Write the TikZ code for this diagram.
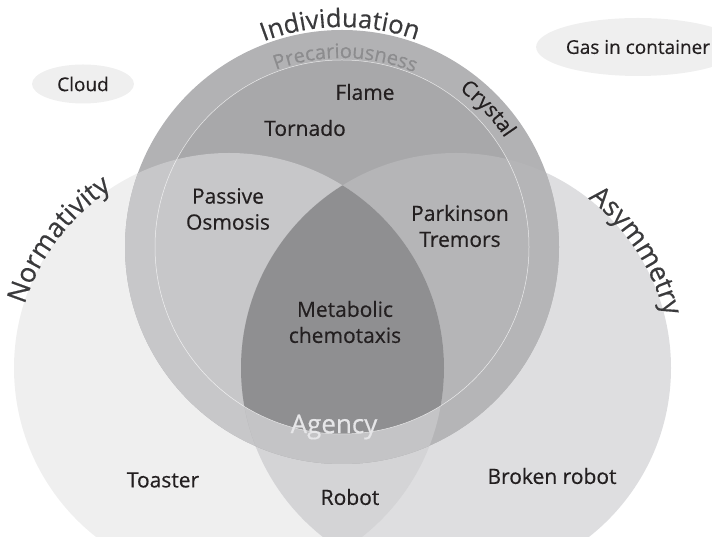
\documentclass[tikz,border=0pt]{standalone}
\usepackage{fontspec}
\setmainfont{Open Sans}[FakeBold=0.45]
\usetikzlibrary{decorations.text,shapes.geometric}

% region fills
\definecolor{lonly}{HTML}{EFEFEF}
\definecolor{ronly}{HTML}{DEDEE0}
\definecolor{lronly}{HTML}{D4D4D6}
\definecolor{ringonly}{HTML}{B2B2B4}
\definecolor{inneronly}{HTML}{A8A8AA}
\definecolor{topleft}{HTML}{C7C7C9}
\definecolor{topright}{HTML}{B5B5B7}
\definecolor{ringlr}{HTML}{C4C4C6}
\definecolor{core}{HTML}{8F8F91}
% text colours
\definecolor{labeltext}{HTML}{231F20}
\definecolor{arctext}{HTML}{3A3A3C}
\definecolor{softtext}{HTML}{8C8C8E}
\definecolor{paletext}{HTML}{E6E6E8}

\newcommand\arcfontbig{\fontsize{25.5}{26}\selectfont}
\newcommand\arcfontside{\fontsize{27}{27}\selectfont}
\newcommand\arcfontmid{\fontsize{20}{20}\selectfont}
\newcommand\arcfontcry{\fontsize{21}{21}\selectfont}

\begin{document}
\begin{tikzpicture}[x=1pt,y=1pt,
  lbl/.style={text=labeltext, font=\fontsize{21}{26}\selectfont, align=center, inner sep=0pt},
  bubble/.style={ellipse, fill=lonly, inner sep=0pt, text=labeltext, font=\fontsize{19}{24}\selectfont},
  arclabel/.style={decorate, decoration={text along path, text align=center, text color=#1}}
]
\useasboundingbox (0,0) rectangle (712,537);

\coordinate (tc) at (342,290);
\coordinate (lc) at (229,169);
\coordinate (rc) at (456,169);

% lower two sets
\fill[lonly] (lc) circle[radius=215];
\fill[ronly] (rc) circle[radius=215];
\begin{scope}
  \clip (lc) circle[radius=215];
  \fill[lronly] (rc) circle[radius=215];
\end{scope}

% upper set with its inner disc
\fill[ringonly] (tc) circle[radius=217];
\fill[inneronly] (tc) circle[radius=187];
\begin{scope}
  \clip (tc) circle[radius=217];
  \fill[topleft] (lc) circle[radius=215];
  \fill[topright] (rc) circle[radius=215];
  \begin{scope}
    \clip (lc) circle[radius=215];
    \fill[ringlr] (rc) circle[radius=215];
    \clip (tc) circle[radius=187];
    \fill[core] (rc) circle[radius=215];
  \end{scope}
\end{scope}
\draw[white, line width=0.5pt, opacity=0.75] (tc) circle[radius=187];

% set names along the rims
\path[arclabel=arctext, decoration={text={|\arcfontbig|Individuation}}]
  (tc) ++(126:220) arc[start angle=126, end angle=55, radius=220];
\path[arclabel=arctext, decoration={text={|\arcfontside|Normativity}}]
  (lc) ++(178:214) arc[start angle=178, end angle=108, radius=214];
\path[arclabel=arctext, decoration={text={|\arcfontside|Asymmetry}}]
  (rc) ++(68:215) arc[start angle=68, end angle=-2, radius=215];
\path[arclabel=softtext, decoration={text={|\arcfontmid|Precariousness}}]
  (tc) ++(122:189) arc[start angle=122, end angle=56, radius=189];
\path[arclabel=labeltext, decoration={text={|\arcfontcry|Crystal}}]
  (tc) ++(69:196) arc[start angle=69, end angle=18, radius=196];

% members
\node[lbl] (flame) at (365,445) {Flame};
\node[lbl] (tornado) at (305,409) {Tornado};
\node[lbl] (osmosis) at (228,328) {Passive\\Osmosis};
\node[lbl] (tremors) at (460,311) {Parkinson\\Tremors};
\node[lbl] (chemotaxis) at (345,215) {Metabolic\\chemotaxis};
\node[lbl, text=paletext, font=\fontsize{26}{26}\selectfont] (agency) at (334,110) {Agency};
\node[lbl] (toaster) at (163,57) {Toaster};
\node[lbl] (robot) at (350,40) {Robot};
\node[lbl] (broken) at (552,61) {Broken robot};

% outliers
\node[bubble, minimum width=102pt, minimum height=39pt] (cloud) at (83,453) {Cloud};
\node[bubble, minimum width=172pt, minimum height=58pt] (gas) at (638,490) {Gas in container};
\end{tikzpicture}
\end{document}
